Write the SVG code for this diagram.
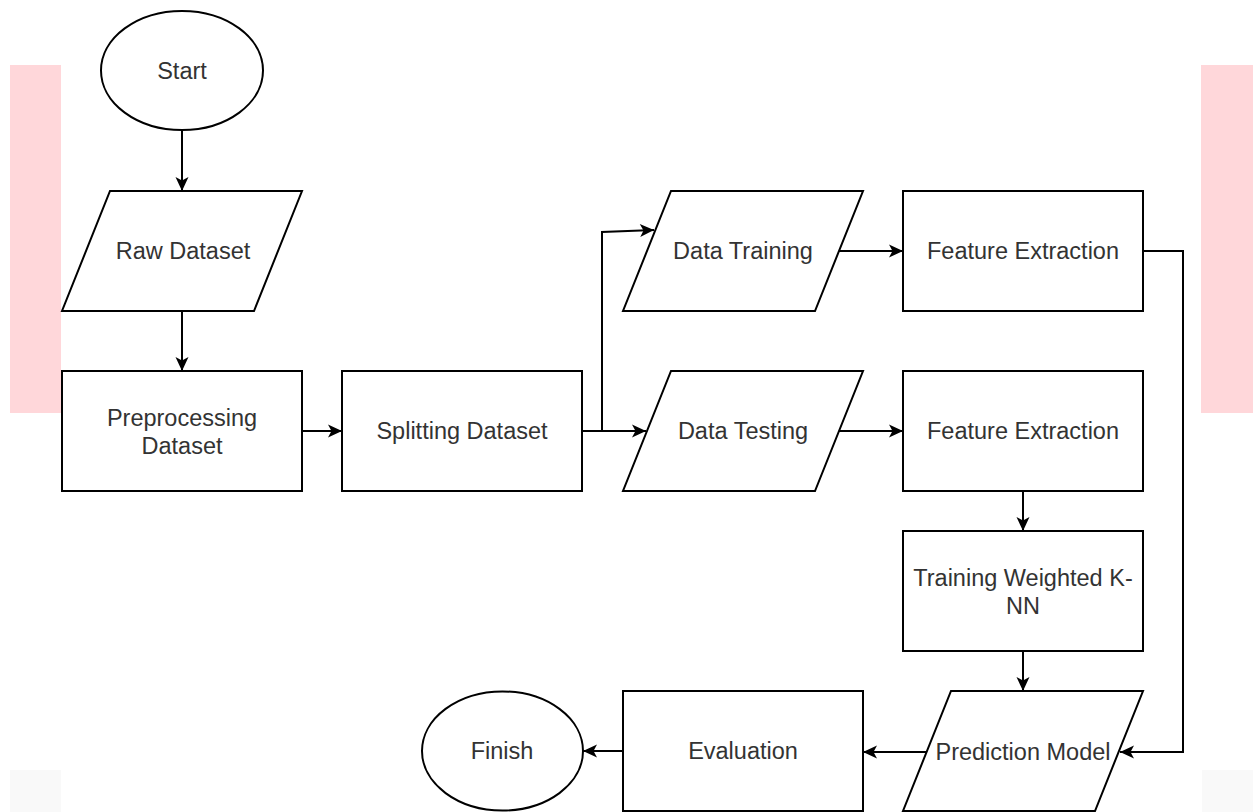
<svg xmlns="http://www.w3.org/2000/svg" width="1253" height="812" viewBox="0 0 1253 812">
  <defs>
    <marker id="arrow" markerUnits="userSpaceOnUse" markerWidth="16" markerHeight="16" viewBox="0 0 16 16" refX="15" refY="8" orient="auto">
      <path d="M1,1.5 L15,8 L1,14.5 L4.5,8 Z" fill="#000"/>
    </marker>
  </defs>
  <style>
    .shape { fill: #fff; stroke: #000; stroke-width: 2; }
    .label { font-family: "Liberation Sans", Arial, sans-serif; font-size: 23.5px; fill: #333; text-anchor: middle; dominant-baseline: central; }
    .edge { fill: none; stroke: #000; stroke-width: 2; marker-end: url(#arrow); }
  </style>

  <rect width="1253" height="812" fill="#fff"/>

  <!-- background bands -->
  <rect x="10" y="65" width="51" height="348" fill="#ffd7da"/>
  <rect x="1201" y="65" width="52" height="348" fill="#ffd7da"/>
  <rect x="10" y="770" width="51" height="42" fill="#f9f9f9"/>
  <rect x="1202" y="770" width="51" height="42" fill="#f9f9f9"/>

  <!-- connectors -->
  <g id="connectors">
    <path class="edge" d="M182,130 V191"/>
    <path class="edge" d="M182,311 V371"/>
    <path class="edge" d="M302,431 H342"/>
    <path class="edge" d="M582,431 H646"/>
    <path class="edge" d="M602,431 V232 L654,230"/>
    <path class="edge" d="M839,251 H903"/>
    <path class="edge" d="M839,431 H903"/>
    <path class="edge" d="M1023,491 V531"/>
    <path class="edge" d="M1023,651 V691"/>
    <path class="edge" d="M1143,251 H1183 V752 H1120"/>
    <path class="edge" d="M927,752 H863"/>
    <path class="edge" d="M623,751 H583"/>
  </g>

  <g id="start">
    <ellipse class="shape" cx="182" cy="70.5" rx="81" ry="59.5"/>
    <text class="label" x="182" y="71">Start</text>
  </g>

  <g id="raw-dataset">
    <polygon class="shape" points="110,191 302,191 254,311 62,311"/>
    <text class="label" x="183" y="251">Raw Dataset</text>
  </g>

  <g id="preprocessing">
    <rect class="shape" x="62" y="371" width="240" height="120"/>
    <text class="label" x="182" y="418">Preprocessing</text>
    <text class="label" x="182" y="446">Dataset</text>
  </g>

  <g id="splitting">
    <rect class="shape" x="342" y="371" width="240" height="120"/>
    <text class="label" x="462" y="431">Splitting Dataset</text>
  </g>

  <g id="data-training">
    <polygon class="shape" points="671,191 863,191 815,311 623,311"/>
    <text class="label" x="743" y="251">Data Training</text>
  </g>

  <g id="data-testing">
    <polygon class="shape" points="671,371 863,371 815,491 623,491"/>
    <text class="label" x="743" y="431">Data Testing</text>
  </g>

  <g id="feature-extraction-1">
    <rect class="shape" x="903" y="191" width="240" height="120"/>
    <text class="label" x="1023" y="251">Feature Extraction</text>
  </g>

  <g id="feature-extraction-2">
    <rect class="shape" x="903" y="371" width="240" height="120"/>
    <text class="label" x="1023" y="431">Feature Extraction</text>
  </g>

  <g id="training-wknn">
    <rect class="shape" x="903" y="531" width="240" height="120"/>
    <text class="label" x="1023" y="578">Training Weighted K-</text>
    <text class="label" x="1023" y="606">NN</text>
  </g>

  <g id="prediction-model">
    <polygon class="shape" points="951,691 1143,691 1095,811 903,811"/>
    <text class="label" x="1023" y="752">Prediction Model</text>
  </g>

  <g id="evaluation">
    <rect class="shape" x="623" y="691" width="240" height="120"/>
    <text class="label" x="743" y="751">Evaluation</text>
  </g>

  <g id="finish">
    <ellipse class="shape" cx="502.5" cy="751" rx="80.5" ry="59.5"/>
    <text class="label" x="502" y="751">Finish</text>
  </g>
</svg>
